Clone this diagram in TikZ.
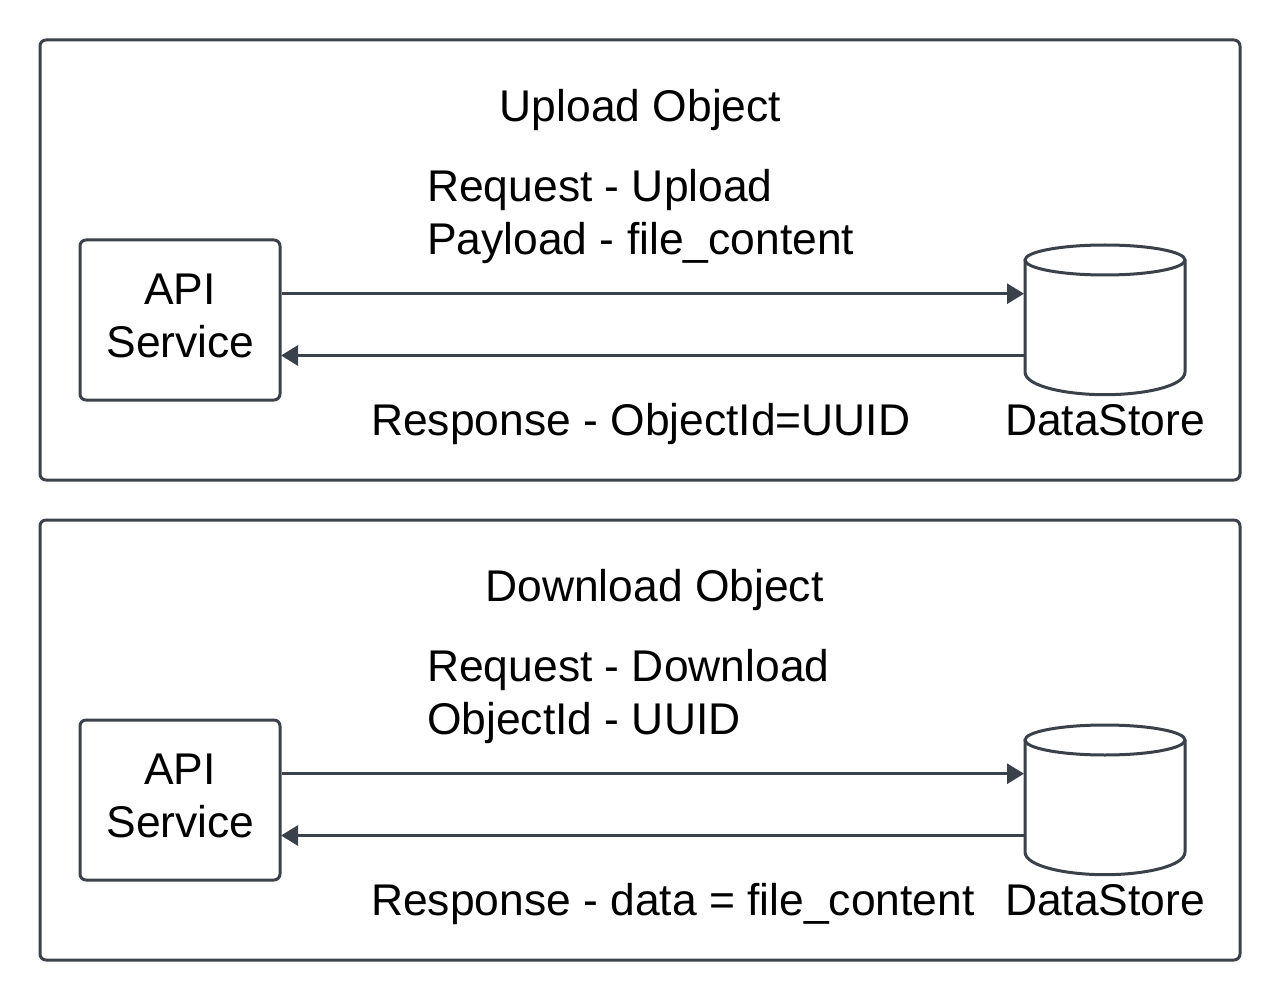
\documentclass[tikz,border=0pt]{standalone}
\usepackage{fontspec}
\setmainfont{Liberation Sans}
\usetikzlibrary{arrows.meta}
\definecolor{ln}{HTML}{3A414A}
\tikzset{
  x=1pt,y=-1pt,
  panel/.style={draw=ln,line width=3pt,rounded corners=6pt,fill=white},
  svc/.style={draw=ln,line width=3pt,rounded corners=6pt,fill=white},
  lbl/.style={inner sep=0pt,font=\fontsize{44.4}{53}\selectfont,text=black},
  flow/.style={draw=ln,line width=3pt,-{Triangle[length=17pt,width=20pt]}},
  cyl/.style={draw=ln,line width=3pt,fill=white}
}
\newcommand{\drumshape}[2]{%
  \path[cyl] (#1-80,#2-60) -- (#1-80,#2+52) .. controls (#1-80,#2+66) and (#1-40,#2+74.7) .. (#1,#2+74.7) .. controls (#1+40,#2+74.7) and (#1+80,#2+66) .. (#1+80,#2+52) -- (#1+80,#2-60);
  \path[cyl] (#1,#2-60) ellipse[x radius=80,y radius=15];
}
\begin{document}
\begin{tikzpicture}
\useasboundingbox (0,0) rectangle (1280,1000);
\fill[white] (0,0) rectangle (1280,1000);
\foreach \dy/\ttl/\tx/\ra/\rb/\resp in {0/Upload Object/640.5/Request - Upload/Payload - file\_content/Response - ObjectId=UUID,480/Download Object/654.5/Request - Download/ObjectId - UUID/Response - data = file\_content}{
\begin{scope}[yshift=-\dy pt]
\path[panel] (40,40) rectangle (1240,480);
\node[lbl,anchor=base] (t\dy) at (\tx,121.4) {\ttl};
\node[svc,minimum width=200pt,minimum height=160pt,inner sep=0pt] (api\dy) at (180,320) {};
\node[lbl,anchor=base] (apia\dy) at (180,304.4) {API};
\node[lbl,anchor=base] (apib\dy) at (180.5,357.4) {Service};
\drumshape{1105}{320}
\coordinate (s\dy) at (1024,293.7);
\coordinate (r\dy) at (1025,355.5);
\coordinate (a\dy) at (api\dy.east |- s\dy);
\coordinate (b\dy) at ([xshift=-0.5pt]api\dy.east |- r\dy);
\draw[flow] (a\dy) -- (s\dy);
\draw[flow] (r\dy) -- (b\dy);
\node[lbl,anchor=base west] (q\dy) at (427,201.4) {\ra};
\node[lbl,anchor=base west] (p\dy) at (427,254.4) {\rb};
\node[lbl,anchor=base west] (re\dy) at (371,435.9) {\resp};
\node[lbl,anchor=base] (d\dy) at (1105,435.9) {DataStore};
\end{scope}}
\end{tikzpicture}
\end{document}
